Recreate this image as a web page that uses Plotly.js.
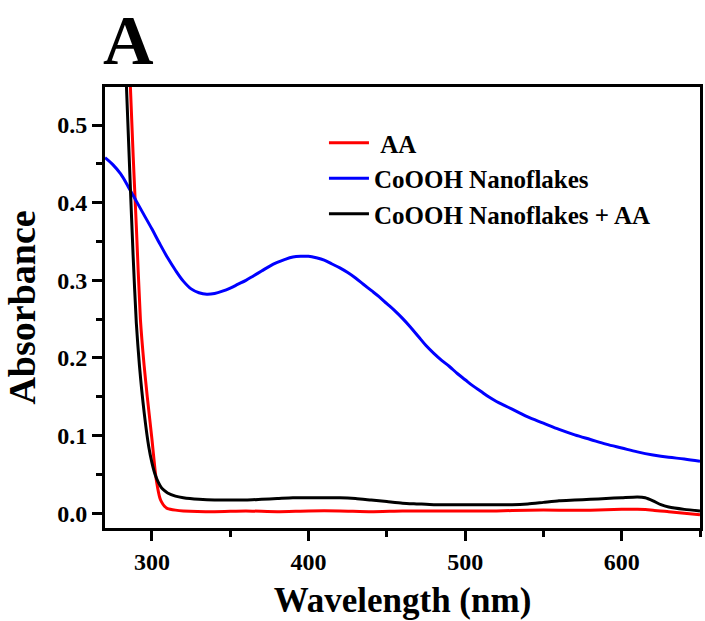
<!DOCTYPE html>
<html>
<head>
<meta charset="utf-8">
<script src="https://cdn.plot.ly/plotly-3.0.1.min.js"></script>
<style>html,body{margin:0;padding:0;background:#fff;}#chart{width:705px;height:621px;}</style>
</head>
<body>
<div id="chart"></div>
<script>
// Wavelength (nm) and absorbance values
var wlAA = [286, 288, 290, 292.6, 295, 297, 300, 302, 303, 305, 306, 308, 310, 315, 320, 340, 360, 380, 400, 420, 440, 460, 480, 500, 520, 540, 560, 580, 600, 610, 620, 630, 640, 650];
var absAA = [0.56, 0.46, 0.37, 0.25, 0.19, 0.15, 0.095, 0.055, 0.04, 0.02, 0.015, 0.009, 0.006, 0.004, 0.003, 0.002, 0.003, 0.002, 0.003, 0.003, 0.002, 0.003, 0.003, 0.003, 0.003, 0.004, 0.004, 0.004, 0.005, 0.005, 0.004, 0.002, 0.000, -0.002];

var wlCo = [270, 275, 280, 285, 290, 295, 300, 305, 310, 315, 320, 325, 330, 335, 340, 345, 350, 355, 360, 365, 370, 375, 380, 385, 390, 395, 400, 405, 410, 415, 420, 425, 430, 435, 440, 445, 450, 455, 460, 465, 470, 475, 480, 485, 490, 495, 500, 505, 510, 515, 520, 525, 530, 535, 540, 550, 560, 570, 580, 590, 600, 610, 620, 630, 640, 650];
var absCo = [0.458, 0.449, 0.437, 0.420, 0.402, 0.384, 0.366, 0.347, 0.329, 0.313, 0.299, 0.289, 0.284, 0.282, 0.283, 0.286, 0.290, 0.295, 0.300, 0.306, 0.312, 0.318, 0.323, 0.327, 0.330, 0.331, 0.331, 0.329, 0.326, 0.321, 0.316, 0.310, 0.303, 0.295, 0.287, 0.279, 0.270, 0.261, 0.251, 0.240, 0.228, 0.216, 0.206, 0.197, 0.189, 0.180, 0.172, 0.164, 0.157, 0.150, 0.144, 0.139, 0.134, 0.129, 0.124, 0.116, 0.108, 0.101, 0.095, 0.089, 0.084, 0.079, 0.075, 0.072, 0.070, 0.067];

var wlCoAA = [283.5, 286, 288, 290, 292, 295, 298, 300, 302, 304, 306, 308, 310, 315, 320, 330, 340, 350, 360, 370, 380, 390, 400, 410, 420, 430, 440, 450, 460, 470, 480, 490, 500, 510, 520, 530, 540, 550, 560, 570, 580, 590, 600, 610, 615, 620, 625, 630, 640, 650];
var absCoAA = [0.56, 0.43, 0.33, 0.245, 0.19, 0.13, 0.085, 0.065, 0.05, 0.04, 0.033, 0.029, 0.026, 0.022, 0.020, 0.018, 0.017, 0.017, 0.017, 0.018, 0.019, 0.020, 0.020, 0.020, 0.020, 0.019, 0.017, 0.015, 0.013, 0.012, 0.011, 0.011, 0.011, 0.011, 0.011, 0.011, 0.012, 0.014, 0.016, 0.017, 0.018, 0.019, 0.020, 0.021, 0.020, 0.016, 0.011, 0.008, 0.005, 0.003];

var seriesNames = ['\u00a0AA', 'CoOOH Nanoflakes', 'CoOOH Nanoflakes + AA'];
var xTicks = [300, 400, 500, 600];
var yTicks = [0.0, 0.1, 0.2, 0.3, 0.4, 0.5];
var yTickText = ['0.0', '0.1', '0.2', '0.3', '0.4', '0.5'];

var serif = 'Liberation Serif, Times New Roman, serif';

var traces = [
  {x: wlAA, y: absAA, name: seriesNames[0], type: 'scatter', mode: 'lines', line: {color: '#ff0000', width: 3, shape: 'spline', smoothing: 0.6}},
  {x: wlCo, y: absCo, name: seriesNames[1], type: 'scatter', mode: 'lines', line: {color: '#0000ff', width: 3, shape: 'spline', smoothing: 1}},
  {x: wlCoAA, y: absCoAA, name: seriesNames[2], type: 'scatter', mode: 'lines', line: {color: '#000000', width: 3, shape: 'spline', smoothing: 0.6}}
];

var layout = {
  width: 705, height: 621,
  margin: {l: 105, r: 5, t: 87, b: 93},
  paper_bgcolor: '#fff', plot_bgcolor: '#fff',
  font: {family: serif, color: '#000'},
  showlegend: true,
  legend: {
    x: 0.368, y: 0.925, xanchor: 'left', yanchor: 'top',
    bgcolor: 'rgba(0,0,0,0)', borderwidth: 0,
    font: {family: serif, size: 25, color: '#000', weight: 'bold'},
    itemwidth: 40, tracegroupgap: 0
  },
  xaxis: {
    range: [270, 650], tickvals: xTicks, ticktext: xTicks.map(String),
    ticks: 'outside', ticklen: 10, tickwidth: 3, tickcolor: '#000',
    showline: true, linewidth: 3, linecolor: '#000', mirror: true,
    showgrid: false, zeroline: false,
    tickfont: {family: serif, size: 24, color: '#000', weight: 'bold'},
    minor: {dtick: 50, tick0: 250, ticks: 'outside', ticklen: 6, tickwidth: 3, tickcolor: '#000', showgrid: false},
    title: {text: 'Wavelength (nm)', font: {family: serif, size: 35, color: '#000', weight: 'bold'}, standoff: 14}
  },
  yaxis: {
    range: [-0.019, 0.549], tickvals: yTicks, ticktext: yTickText,
    ticks: 'outside', ticklen: 10, tickwidth: 3, tickcolor: '#000',
    showline: true, linewidth: 3, linecolor: '#000', mirror: true,
    showgrid: false, zeroline: false,
    tickfont: {family: serif, size: 24, color: '#000', weight: 'bold'},
    minor: {dtick: 0.05, tick0: 0, ticks: 'outside', ticklen: 6, tickwidth: 3, tickcolor: '#000', showgrid: false},
    title: {text: 'Absorbance', font: {family: serif, size: 38, color: '#000', weight: 'bold'}, standoff: 10}
  },
  annotations: [
    {text: 'A', xref: 'paper', yref: 'paper', x: (128 - 105) / 595, y: (528 - 40) / 441, xanchor: 'center', yanchor: 'middle', showarrow: false,
     font: {family: serif, size: 70, color: '#000', weight: 'bold'}},
    {text: 'B', xref: 'paper', yref: 'paper', x: (80 - 105) / 595, y: (528 - 604) / 441, xanchor: 'left', yanchor: 'top', showarrow: false,
     font: {family: serif, size: 70, color: '#000', weight: 'bold'}}
  ]
};

Plotly.newPlot('chart', traces, layout, {displayModeBar: false, staticPlot: true});
</script>
</body>
</html>
